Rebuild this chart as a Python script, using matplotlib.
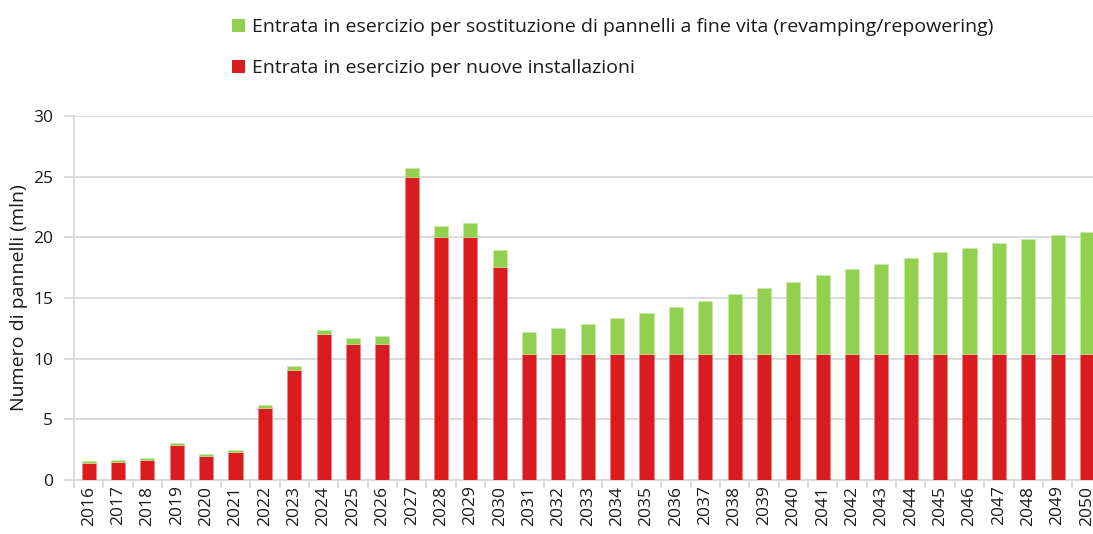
import matplotlib
matplotlib.use("Agg")
import matplotlib.pyplot as plt
from matplotlib.patches import Patch
import numpy as np

years = [str(y) for y in range(2016, 2051)]
nuove = [1.43, 1.51, 1.68, 2.92, 2.01, 2.34, 5.97, 9.03, 12.03, 11.23, 11.23, 25.0,
         20.0, 20.0, 17.55,
         10.42, 10.42, 10.42, 10.42, 10.42, 10.42, 10.42, 10.42, 10.42, 10.42,
         10.42, 10.42, 10.42, 10.42, 10.42, 10.42, 10.42, 10.42, 10.42, 10.42]
totale = [1.57, 1.65, 1.82, 3.06, 2.15, 2.48, 6.19, 9.39, 12.39, 11.70, 11.83, 25.75,
          20.94, 21.19, 18.99,
          12.16, 12.52, 12.88, 13.35, 13.79, 14.29, 14.73, 15.34, 15.80, 16.30,
          16.90, 17.37, 17.84, 18.31, 18.79, 19.14, 19.50, 19.83, 20.20, 20.42]
sostituzione = [round(t - n, 2) for t, n in zip(totale, nuove)]

label_sost = "Entrata in esercizio per sostituzione di pannelli a fine vita (revamping/repowering)"
label_nuove = "Entrata in esercizio per nuove installazioni"
ylabel = "Numero di pannelli (mln)"

RED = "#d91c1f"
GREEN = "#92d050"
GRID = "#d9d9d9"
TXT = "#1a1a1a"

plt.rcParams['font.family'] = ['Open Sans', 'DejaVu Sans']

fig = plt.figure(figsize=(10.93, 5.34), dpi=100)
ax = fig.add_axes([74/1093, 54/534, 1027.6/1093, 364/534])

x = np.arange(len(years))
ax.bar(x, nuove, width=0.48, color=RED, edgecolor="#f08080", linewidth=0.4, zorder=3)
ax.bar(x, sostituzione, bottom=nuove, width=0.48, color=GREEN, edgecolor="#c8eaa8",
       linewidth=0.4, zorder=3)

ax.set_xlim(-0.5, len(years) - 0.5)
ax.set_ylim(0, 30)
ax.set_yticks(range(0, 31, 5))
ax.yaxis.grid(True, color=GRID, linewidth=1.3, zorder=0)
ax.set_axisbelow(True)

ax.set_xticks(x)
ax.set_xticklabels(years, rotation=90, fontsize=12.5, color=TXT)
ax.tick_params(axis='x', which='major', length=0, pad=4)
ax.set_xticks(np.arange(-0.5, len(years), 1.0), minor=True)
ax.tick_params(axis='x', which='minor', length=6, color=GRID, width=1.3)
ax.tick_params(axis='y', length=7, color=GRID, width=1.3, labelsize=12.5, labelcolor=TXT, pad=8)

for s in ['top', 'right']:
    ax.spines[s].set_visible(False)
for s in ['left', 'bottom']:
    ax.spines[s].set_color(GRID)
    ax.spines[s].set_linewidth(1.3)

ax.set_ylabel(ylabel, fontsize=14, color=TXT, labelpad=4)

handles = [Patch(facecolor=GREEN, label=label_sost), Patch(facecolor=RED, label=label_nuove)]
fig.legend(handles=handles, loc='upper left', bbox_to_anchor=(215/1093, 1 - 1/534),
           frameon=False, fontsize=14, handlelength=0.65, handleheight=0.65,
           handletextpad=0.35, labelspacing=1.15, labelcolor=TXT)

fig.savefig("out.png", dpi=100)
